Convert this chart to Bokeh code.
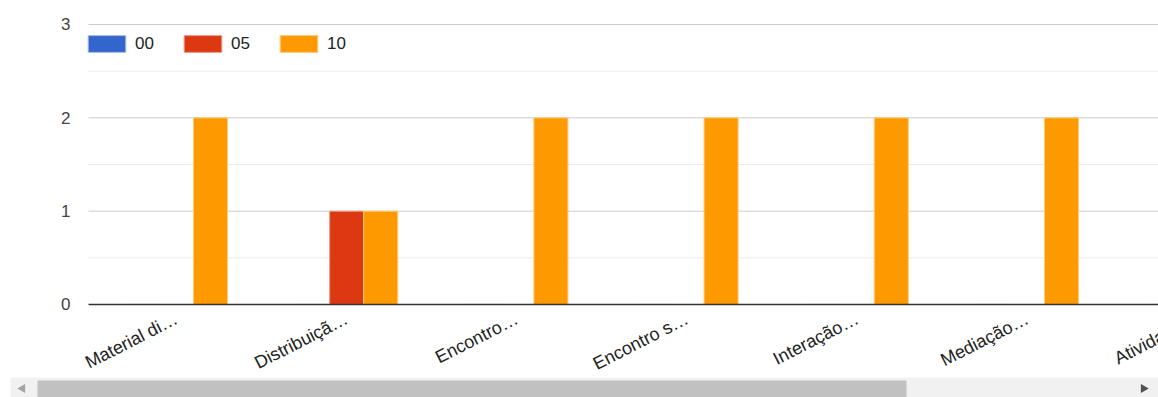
import numpy as np
from bokeh.plotting import figure
from bokeh.models import Range1d, Legend, LabelSet, ColumnDataSource
from bokeh.core.properties import value
from bokeh.embed import file_html
from bokeh.resources import INLINE

# ---- data ----
categories = ["Material di…", "Distribuiçã…", "Encontro…", "Encontro s…",
              "Interação…", "Mediação…", "Atividade…"]
series_names = ["00", "05", "10"]
values_00 = [0, 0, 0, 0, 0, 0, 0]
values_05 = [0, 1, 0, 0, 0, 0, 0]
values_10 = [2, 1, 2, 2, 2, 2, 2]
y_ticks = [0, 1, 2, 3]
y_minor_ticks = [0.5, 1.5, 2.5]

colors = ["#3366cc", "#dc3912", "#ff9900"]
outline = ["#a9bde6", "#ee9c88", "#ffcc80"]
FONT = "Liberation Sans"

W, H = 1158, 397
n = len(categories)
idx = np.arange(n)

p = figure(width=W, height=H, output_backend="svg", toolbar_location=None,
           x_range=Range1d(-1.034, 5.770), y_range=Range1d(-0.9964, 3.257),
           x_axis_location=None, y_axis_location=None,
           min_border=0, min_border_left=0, min_border_right=0,
           min_border_top=0, min_border_bottom=0)
p.outline_line_color = None
p.grid.visible = False
p.background_fill_color = "white"
p.border_fill_color = "white"
# pixel-space helper ranges for the chart chrome (gridline extent, scrollbar)
p.extra_x_ranges = {"px": Range1d(0, W)}
p.extra_y_ranges = {"px": Range1d(H, 0)}

plot_left = 88

# gridlines
p.segment(x0=[plot_left] * len(y_minor_ticks), x1=[W] * len(y_minor_ticks),
          y0=y_minor_ticks, y1=y_minor_ticks, x_range_name="px",
          line_color="#ebebeb", line_width=1)
p.segment(x0=[plot_left] * 3, x1=[W] * 3, y0=y_ticks[1:], y1=y_ticks[1:],
          x_range_name="px", line_color="#cccccc", line_width=1)

# bars
bar_w = 0.2
renderers = []
for k, (name, vals) in enumerate(zip(series_names, [values_00, values_05, values_10])):
    src = ColumnDataSource(dict(x=idx + (k - 1) * bar_w, top=vals))
    r = p.vbar(x="x", top="top", bottom=0, width=bar_w, source=src,
               fill_color=colors[k], line_color=outline[k], line_width=1)
    renderers.append((name, [r]))

# baseline at 0
p.segment(x0=[plot_left], x1=[W], y0=[0], y1=[0], x_range_name="px",
          line_color="#333333", line_width=1.5)

# y tick labels
p.text(x=[70] * len(y_ticks), y=y_ticks, text=[str(t) for t in y_ticks],
       x_range_name="px", text_align="right", text_baseline="middle",
       text_font=value(FONT), text_font_size="17px", text_color="#444444")

# x category labels, rotated
lab_src = ColumnDataSource(dict(x=idx.astype(float), y=[-0.14] * n, text=categories))
labels = LabelSet(x="x", y="y", text="text", source=lab_src, angle=np.deg2rad(27),
                  text_align="right", text_baseline="middle",
                  text_font=value(FONT), text_font_size=value("18px"),
                  text_color="#222222")
p.add_layout(labels)

# legend
legend = Legend(items=renderers, orientation="horizontal", location=(83, 343),
                margin=0, padding=0, spacing=24, glyph_width=47, glyph_height=21,
                label_standoff=5, label_height=16, label_width=20,
                label_text_font=FONT, label_text_font_size="17px",
                label_text_color="#222222",
                border_line_color=None, background_fill_alpha=0)
p.add_layout(legend)

# scrollbar
p.quad(left=[10], right=[W], top=[377], bottom=[H], x_range_name="px", y_range_name="px",
       fill_color="#f1f1f1", line_color=None)
p.quad(left=[37], right=[906], top=[380], bottom=[H], x_range_name="px", y_range_name="px",
       fill_color="#c1c1c1", line_color=None)
p.scatter(x=[22], y=[388], marker="triangle", size=9, angle=np.pi / 2,
          x_range_name="px", y_range_name="px", fill_color="#a3a3a3", line_color=None)
p.scatter(x=[1143], y=[388], marker="triangle", size=9, angle=-np.pi / 2,
          x_range_name="px", y_range_name="px", fill_color="#505050", line_color=None)

open("out.html", "w").write(file_html(p, INLINE))
